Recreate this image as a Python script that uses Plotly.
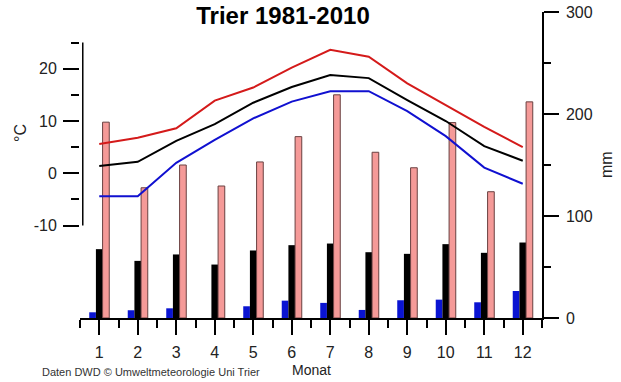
import plotly.graph_objects as go

months = [1, 2, 3, 4, 5, 6, 7, 8, 9, 10, 11, 12]
month_labels = [str(m) for m in months]

# temperatures (°C)
t_max = [5.6, 6.8, 8.6, 13.9, 16.4, 20.2, 23.6, 22.3, 17.2, 13.0, 8.9, 5.0]
t_mean = [1.4, 2.2, 6.2, 9.4, 13.5, 16.5, 18.8, 18.2, 14.0, 10.0, 5.2, 2.4]
t_min = [-4.4, -4.4, 2.0, 6.4, 10.5, 13.7, 15.7, 15.7, 11.9, 7.1, 1.1, -2.0]

# bars (mm axis)
bar_blue = [5.6, 7.6, 9.5, 0, 11.5, 17, 14.8, 7.9, 17.4, 18, 15.4, 26.5]
bar_black = [67.5, 56, 62.3, 52.4, 66.2, 71.4, 73, 64.5, 62.9, 72.4, 63.9, 74]
bar_pink = [192, 127.7, 150, 129.4, 153, 177.8, 218.8, 162.5, 147.3, 191.6, 123.8, 211.9]

temp_ticks = [-10, 0, 10, 20]
temp_tick_labels = ["-10", "0", "10", "20"]
temp_minor = [-5, 5, 15, 25]
mm_ticks = [0, 100, 200, 300]
mm_tick_labels = ["0", "100", "200", "300"]

FONT = "Liberation Sans, Arial, sans-serif"

W, H = 621, 382
L, R, T, B = 80, 79, 12, 64
PW, PH = W - L - R, H - T - B

fig = go.Figure()
fig.add_trace(go.Bar(x=months, y=bar_blue, marker=dict(color="#0a14d2", line=dict(width=0)),
                     name="blue", yaxis="y"))
fig.add_trace(go.Bar(x=months, y=bar_black, marker=dict(color="#000000", line=dict(width=0)),
                     name="black", yaxis="y"))
fig.add_trace(go.Bar(x=months, y=bar_pink, marker=dict(color="#f59a98", line=dict(width=1, color="#6a4040")),
                     name="pink", yaxis="y"))

fig.add_trace(go.Scatter(x=months, y=t_max, mode="lines", line=dict(color="#d41a1a", width=2), yaxis="y2", name="max"))
fig.add_trace(go.Scatter(x=months, y=t_mean, mode="lines", line=dict(color="#000000", width=2), yaxis="y2", name="mittel"))
fig.add_trace(go.Scatter(x=months, y=t_min, mode="lines", line=dict(color="#1010d0", width=2), yaxis="y2", name="min"))

# left axis line only spans -10..25
fig.add_shape(type="line", xref="paper", yref="y2", x0=0.006, x1=0.006, y0=-10, y1=25,
              line=dict(color="#000000", width=1.5))

fig.update_layout(
    width=W, height=H,
    margin=dict(l=L, r=R, t=T, b=B, autoexpand=False),
    paper_bgcolor="white", plot_bgcolor="white",
    showlegend=False,
    barmode="group", bargap=0.48, bargroupgap=0,
    font=dict(family=FONT, size=16, color="#222222"),
    title=dict(text="<b>Trier 1981-2010</b>", font=dict(family=FONT, size=24, color="#000000"),
               xref="container", yref="container", x=283 / W, xanchor="center",
               y=1 - 16 / H, yanchor="middle"),
    xaxis=dict(range=[0.5, 12.5], tickmode="array", tickvals=months, ticktext=month_labels,
               ticks="outside", ticklen=15, tickwidth=1.5, tickcolor="#000000",
               minor=dict(tickmode="linear", tick0=0.5, dtick=1, ticks="outside", ticklen=8,
                          tickwidth=1.5, tickcolor="#000000"),
               showline=True, linecolor="#000000", linewidth=1.5, showgrid=False, zeroline=False,
               automargin=False, ticklabelstandoff=4),
    yaxis=dict(range=[0, 300], side="right", tickmode="array", tickvals=mm_ticks, ticktext=mm_tick_labels,
               ticks="outside", ticklen=15, tickwidth=1.5, tickcolor="#000000",
               minor=dict(tickmode="linear", tick0=0, dtick=50, ticks="outside", ticklen=7,
                          tickwidth=1.5, tickcolor="#000000"),
               showline=True, linecolor="#000000", linewidth=1.5, showgrid=False, zeroline=False,
               automargin=False, ticklabelstandoff=4, ticklabeloverflow="allow"),
    yaxis2=dict(range=[-27.66, 30.84], overlaying="y", side="left", anchor="x",
                tickmode="array", tickvals=temp_ticks, ticktext=temp_tick_labels,
                ticks="outside", ticklen=16, tickwidth=1.5, tickcolor="#000000",
                minor=dict(tickmode="array", tickvals=temp_minor, ticks="outside", ticklen=8,
                           tickwidth=1.5, tickcolor="#000000"),
                showline=False, showgrid=False, zeroline=False, automargin=False,
                ticklabelstandoff=3),
    annotations=[
        dict(text="°C", xref="paper", yref="paper", x=(20 - L) / PW, y=(318 - 133) / PH,
             showarrow=False, textangle=-90, font=dict(size=16, color="#222222"),
             xanchor="center", yanchor="middle"),
        dict(text="mm", xref="paper", yref="paper", x=(606 - L) / PW, y=(318 - 165) / PH,
             showarrow=False, textangle=-90, font=dict(size=16, color="#222222"),
             xanchor="center", yanchor="middle"),
        dict(text="Monat", xref="paper", yref="paper", x=(311 - L) / PW, y=-(370 - 318) / PH,
             showarrow=False, font=dict(size=14, color="#222222"),
             xanchor="center", yanchor="middle"),
        dict(text="Daten DWD © Umweltmeteorologie Uni Trier", xref="paper", yref="paper",
             x=(151 - L) / PW, y=-(372 - 318) / PH, showarrow=False,
             font=dict(size=11, color="#333333"), xanchor="center", yanchor="middle"),
    ],
)

fig.write_html("out.html", config={"displayModeBar": False},
               post_script="document.body.style.margin='0';")
